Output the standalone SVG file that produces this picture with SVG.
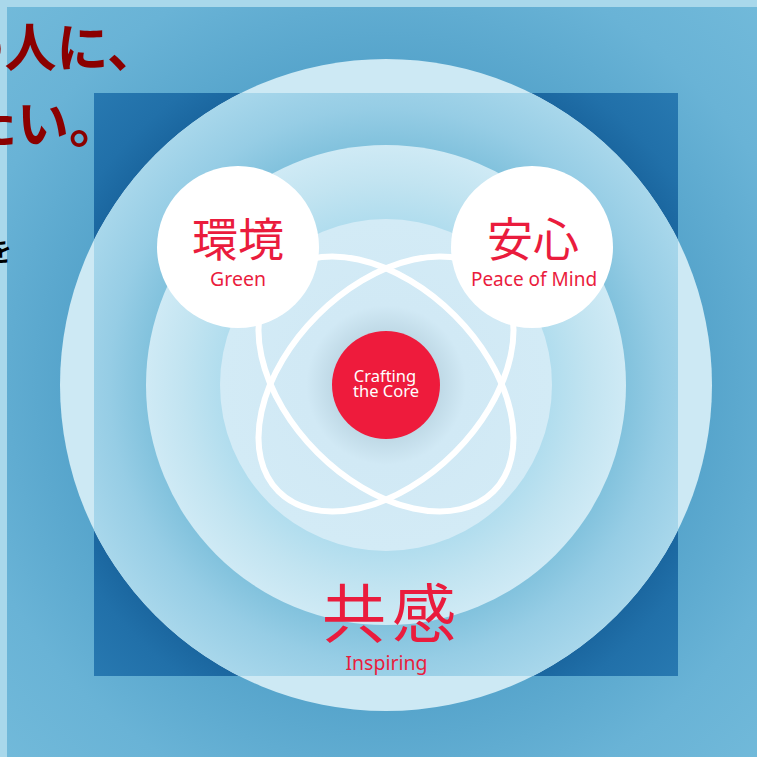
<svg xmlns="http://www.w3.org/2000/svg" width="757" height="757" viewBox="0 0 757 757">
  <style>
    .jp { font-family: "Noto Sans CJK JP", "Noto Sans", sans-serif; }
    .lat { font-family: "Noto Sans", "Open Sans", sans-serif; }
    .red { fill: #ea1c3d; }
    .orbit { fill: none; stroke: #ffffff; stroke-width: 6; }
    .bubble { fill: #ffffff; }
  </style>
  <defs>
    <radialGradient id="bgGrad" gradientUnits="userSpaceOnUse" cx="386" cy="385" r="540">
      <stop offset="0.6" stop-color="#57a5cc"/>
      <stop offset="0.8" stop-color="#69b3d6"/>
      <stop offset="1" stop-color="#72bada"/>
    </radialGradient>
    <radialGradient id="sqGrad" gradientUnits="userSpaceOnUse" cx="386" cy="385" r="413">
      <stop offset="0.79" stop-color="#1b67a0"/>
      <stop offset="0.86" stop-color="#2170a9"/>
      <stop offset="1" stop-color="#2879b1"/>
    </radialGradient>
    <radialGradient id="outerSq" gradientUnits="userSpaceOnUse" cx="386" cy="385" r="326">
      <stop offset="0.736" stop-color="#82c2dd"/>
      <stop offset="0.85" stop-color="#96cde5"/>
      <stop offset="1" stop-color="#a8d7eb"/>
    </radialGradient>
    <radialGradient id="midGrad" gradientUnits="userSpaceOnUse" cx="386" cy="385" r="240">
      <stop offset="0.69" stop-color="#b1ddee"/>
      <stop offset="0.85" stop-color="#c2e4f1"/>
      <stop offset="1" stop-color="#cfeaf5"/>
    </radialGradient>
    <radialGradient id="innerGrad" gradientUnits="userSpaceOnUse" cx="386" cy="385" r="166">
      <stop offset="0.33" stop-color="#c0dae7"/>
      <stop offset="0.48" stop-color="#d1e9f5"/>
      <stop offset="1" stop-color="#d3ebf6"/>
    </radialGradient>
    <clipPath id="sqClip">
      <rect x="94" y="93" width="584" height="583"/>
    </clipPath>
  </defs>

  <!-- backdrop -->
  <rect x="0" y="0" width="757" height="757" fill="#a9d8eb"/>
  <rect x="7" y="7" width="750" height="750" fill="url(#bgGrad)"/>
  <rect x="94" y="93" width="584" height="583" fill="url(#sqGrad)"/>

  <!-- concentric circles -->
  <circle cx="386" cy="385" r="326" fill="#cde9f4"/>
  <circle cx="386" cy="385" r="326" fill="url(#outerSq)" clip-path="url(#sqClip)"/>
  <circle cx="386" cy="385" r="240" fill="url(#midGrad)"/>
  <circle cx="386" cy="385" r="166" fill="url(#innerGrad)"/>

  <!-- connectors: orbits -->
  <g id="connectors">
    <ellipse class="orbit" cx="386" cy="384" rx="152" ry="97" transform="rotate(45 386 384)"/>
    <ellipse class="orbit" cx="386" cy="384" rx="152" ry="97" transform="rotate(-45 386 384)"/>
  </g>

  <!-- nodes -->
  <g id="node-green">
    <circle class="bubble" cx="238" cy="247" r="81"/>
    <text class="jp red" x="238" y="256" font-size="46" text-anchor="middle">環境</text>
    <text class="lat red" x="238" y="286" font-size="19.5" text-anchor="middle">Green</text>
  </g>
  <g id="node-peace">
    <circle class="bubble" cx="532" cy="247" r="81"/>
    <text class="jp red" x="533" y="256" font-size="46" text-anchor="middle">安心</text>
    <text class="lat red" x="534" y="286" font-size="19" text-anchor="middle">Peace of Mind</text>
  </g>
  <g id="node-core">
    <circle cx="386" cy="385" r="54" fill="#ee1b3c"/>
    <text class="lat" x="385" y="382" font-size="16.5" fill="#ffffff" text-anchor="middle">Crafting</text>
    <text class="lat" x="386" y="397" font-size="16.5" fill="#ffffff" text-anchor="middle">the Core</text>
  </g>
  <g id="node-inspiring">
    <text class="jp red" x="322" y="637" font-size="64" letter-spacing="6">共感</text>
    <text class="lat red" x="386.5" y="670" font-size="19.5" text-anchor="middle">Inspiring</text>
  </g>

  <!-- clipped heading text at left -->
  <text class="jp" x="159" y="67" font-size="52" font-weight="bold" fill="#8b0000" text-anchor="end">の人に、</text>
  <text class="jp" x="121" y="143" font-size="52" font-weight="bold" fill="#8b0000" text-anchor="end">たい。</text>
  <text class="jp" x="12" y="261" font-size="26" font-weight="bold" fill="#000000" text-anchor="end">を</text>
</svg>
